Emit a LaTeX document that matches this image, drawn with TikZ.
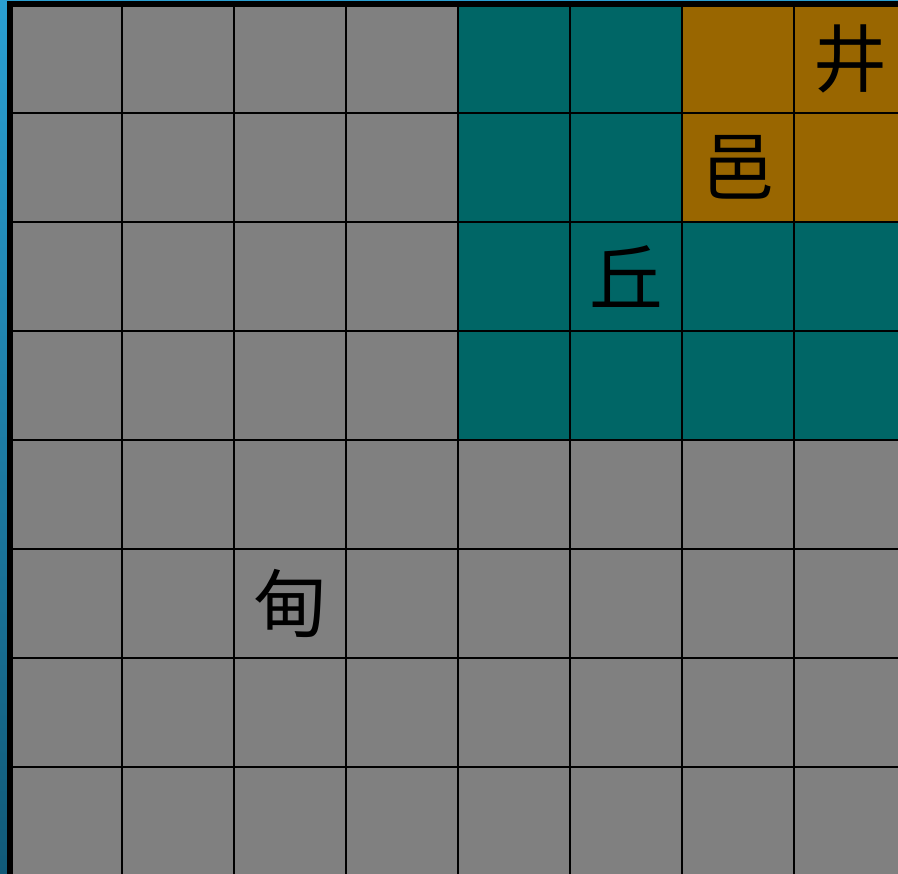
\documentclass[tikz,border=0pt]{standalone}
\usepackage{fontspec}
\newfontfamily\cjk{Noto Sans CJK SC}
\definecolor{cellgray}{HTML}{808080}
\definecolor{cellteal}{HTML}{006666}
\definecolor{cellochre}{HTML}{996600}
\definecolor{edgelight}{HTML}{2A9FD2}
\definecolor{edgedark}{HTML}{115A78}
\begin{document}
\begin{tikzpicture}[x=0.02cm, y=-0.02cm,
    gridline/.style={draw=black, line width=1.1pt},
    frameline/.style={draw=black, line width=3.4pt},
    glyph/.style={font=\cjk\fontsize{42}{42}\selectfont, inner sep=0pt}]
    \useasboundingbox (0,0) rectangle (898,873);
    \clip (0,0) rectangle (898,873);

    % Blue edge behind the board
    \shade[top color=edgelight, bottom color=edgedark] (0,0) rectangle (7,873);
    \fill[edgelight] (0,0) rectangle (898,1.5);

    % Cells: gray board, teal block, ochre block
    \fill[cellgray] (10,4) rectangle (906,876);
    \fill[cellteal] (458,4) rectangle (906,440);
    \fill[cellochre] (682,4) rectangle (906,222);

    % Cell centres
    \foreach \i in {0,...,7}
        \foreach \j in {0,...,7}
            \coordinate (c-\i-\j) at ({66+112*\i},{58.5+109*\j});

    % Grid lines
    \foreach \i in {1,...,8}
        \draw[gridline] ({10+112*\i},4) -- ({10+112*\i},876);
    \foreach \j in {1,...,8}
        \draw[gridline] (10,{4+109*\j}) -- (906,{4+109*\j});

    % Outer frame
    \draw[frameline] (10,876) -- (10,4) -- (906,4);

    % Characters
    \node[glyph] (jing) at (c-7-0) {井};
    \node[glyph] (yi) at (c-6-1) {邑};
    \node[glyph] (qiu) at (c-5-2) {丘};
    \node[glyph] (dian) at (c-2-5) {甸};
\end{tikzpicture}
\end{document}
